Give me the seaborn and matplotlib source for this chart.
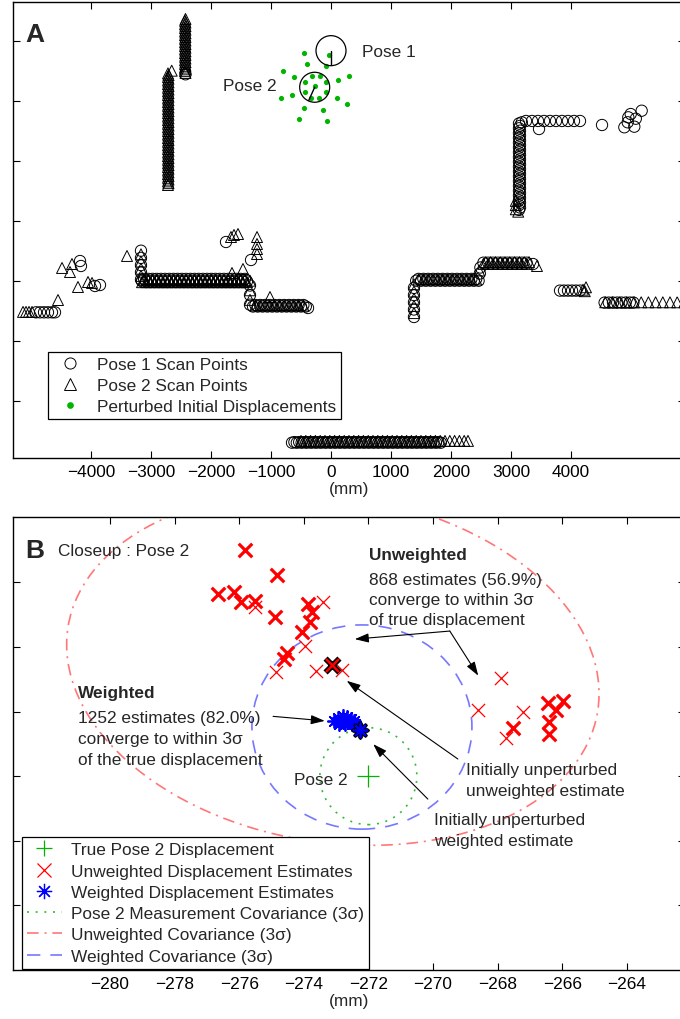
import warnings
warnings.filterwarnings("ignore")
import matplotlib
matplotlib.use("Agg")
import matplotlib.pyplot as plt
import seaborn as sns
from matplotlib.patches import Ellipse, Circle
from matplotlib.lines import Line2D
from matplotlib.ticker import FixedLocator, FixedFormatter, NullFormatter

sns.set_style("ticks")
plt.rcParams["font.family"] = ["Liberation Sans", "DejaVu Sans"]
plt.rcParams["axes.unicode_minus"] = True
FS = 12.4

# ======================= Panel A data (mm) =======================
a_xticks = [-4000, -3000, -2000, -1000, 0, 1000, 2000, 3000, 4000]
a_xticklabels = ["\u22124000", "\u22123000", "\u22122000", "\u22121000", "0", "1000", "2000", "3000", "4000"]
a_yticks = [-2000, -1000, 0, 1000, 2000, 3000, 4000]

pose1 = (0, 3834)
pose2 = (-272, 3224)
pose_radius = 250
pose1_heading = (0, 3600)
pose2_heading = (-372, 3002)

perturbed_x = [-450, -392, -805, -620, -83, 113, 305, -833, -650, 95, 270, -447, -138, -537, -75,
               -433, -322, -183, -83, -83, -195, -338, -433, -267, -33]
perturbed_y = [3800, 3607, 3492, 3403, 3575, 3345, 3412, 3040, 3100, 3045, 2953, 2873, 2848, 2695, 2658,
               3307, 3407, 3407, 3307, 3150, 3045, 3040, 3150, 3250, 3767]

# Pose 1 scan points (circles), by wall segment
p1_misc_x = [-4183, -4167, -3933, -3850, -1750, -1333, 3467, 4517, 4889, 4955, 4995, 5055, 5178, 4945,
             5080, -2425, -383, 3367, 2480, 2490, 3180]
p1_misc_y = [328, 245, -88, -72, 645, 345, 2528, 2595, 2557, 2723, 2778, 2567, 2833, 2640,
             2700, 3440, -455, 278, 120, 220, 2640]
p1_ll_x = [-4917, -4850, -4783, -4717, -4650, -4600]
p1_ll_y = -527
p1_w1_x = -3167
p1_w1_y = [500, 380, 260, 140, 20]
p1_w2_x = [-3150, -3080, -3010, -2940, -2870, -2800, -2730, -2660, -2590, -2520, -2450, -2380, -2310,
           -2240, -2170, -2100, -2030, -1960, -1890, -1820, -1750, -1680, -1610, -1540, -1470, -1400]
p1_w2_y = -10
p1_w2b_x = [-3115, -3045, -2975, -2905, -2835, -2765, -2695, -2625, -2555, -2485, -2415, -2345, -2275,
            -2205, -2135, -2065, -1995, -1925, -1855, -1785, -1715, -1645, -1575, -1505, -1435]
p1_w2b_y = 30
p1_w3_x = -1350
p1_w3_y = [-80, -240, -400]
p1_w4_x = [-1300, -1220, -1140, -1060, -980, -900, -820, -740, -660, -580, -500, -420]
p1_w4_y = -430
p1_w4b_x = [-1260, -1180, -1100, -1020, -940, -860, -780, -700, -620, -540, -460]
p1_w4b_y = -405
p1_w5_x = [-650, -570, -490, -410, -330, -250, -170, -90, -10, 70, 150, 230, 310, 390, 470, 550, 630,
           710, 790, 870, 950, 1030, 1110, 1190, 1270, 1350, 1430, 1510, 1590, 1670, 1750, 1830]
p1_w5_y = -2700
p1_w5b_x = [-610, -530, -450, -370, -290, -210, -130, -50, 30, 110, 190, 270, 350, 430, 510, 590, 670,
            750, 830, 910, 990, 1070, 1150, 1230, 1310, 1390, 1470, 1550, 1630, 1710, 1790]
p1_w5b_y = -2690
p1_w6_x = 1383
p1_w6_y = [-605, -480, -360, -240, -120]
p1_w7_x = [1420, 1500, 1580, 1660, 1740, 1820, 1900, 1980, 2060, 2140, 2220, 2300, 2380, 2460]
p1_w7_y = 0
p1_w7b_x = [1460, 1540, 1620, 1700, 1780, 1860, 1940, 2020, 2100, 2180, 2260, 2340, 2420]
p1_w7b_y = 30
p1_w9_x = [2540, 2620, 2700, 2780, 2860, 2940, 3020, 3100, 3180, 3260]
p1_w9_y = 300
p1_w10_x = [3817, 3883, 3950, 4017, 4083, 4150]
p1_w10_y = -165
p1_w11_x = [4560, 4630, 4700, 4770, 4840, 4910, 4980, 5040]
p1_w11_y = -365
p1_w12_x = 3133
p1_w12_y = [1180, 1260, 1340, 1420, 1500, 1580, 1660, 1740, 1820, 1900, 1980, 2060, 2140, 2220, 2300,
            2380, 2460, 2540, 2620]
p1_w12b_x = 3150
p1_w12b_y = [1220, 1300, 1380, 1460, 1540, 1620, 1700, 1780, 1860, 1940, 2020, 2100, 2180, 2260, 2340,
             2420, 2500, 2580]
p1_w13_x = [3250, 3350, 3450, 3550, 3650, 3750, 3850, 3950, 4050, 4150]
p1_w13_y = 2662

# Pose 2 scan points (triangles), by wall segment
p2_misc_x = [-2655, -4550, -4483, -4350, -4317, -4217, -4050, -3983, -3400, -1650, -1467, -1617, -1550,
             -1667, -1017, 2470, 3433, 4200, 4250, 4230, 3120]
p2_misc_y = [3500, -322, 212, 145, 278, -105, -22, -38, 412, 128, 195, 762, 778,
             728, -272, 170, 245, -150, -110, -175, 1150]
p2_w1_x = -2717
p2_w1_y = [1595, 1655, 1715, 1775, 1835, 1895, 1955, 2015, 2075, 2135, 2195, 2255, 2315, 2375, 2435, 2495,
           2555, 2615, 2675, 2735, 2795, 2855, 2915, 2975, 3035, 3095, 3155, 3215, 3275, 3335, 3395, 3455]
p2_w1b_x = -2708
p2_w1b_y = [1625, 1685, 1745, 1805, 1865, 1925, 1985, 2045, 2105, 2165, 2225, 2285, 2345, 2405, 2465,
            2525, 2585, 2645, 2705, 2765, 2825, 2885, 2945, 3005, 3065, 3125, 3185, 3245, 3305, 3365, 3425]
p2_w2_x = -2425
p2_w2_y = [3462, 3522, 3582, 3642, 3702, 3762, 3822, 3882, 3942, 4002, 4062, 4122, 4182, 4242, 4302, 4362]
p2_w2b_x = -2433
p2_w2b_y = [3492, 3552, 3612, 3672, 3732, 3792, 3852, 3912, 3972, 4032, 4092, 4152, 4212, 4272, 4332]
p2_ll_x = [-5133, -5083, -5033, -4983]
p2_ll_y = -520
p2_w3_x = -3167
p2_w3_y = [440, 320, 200, 80]
p2_w4_x = [-3115, -3045, -2975, -2905, -2835, -2765, -2695, -2625, -2555, -2485, -2415, -2345, -2275,
           -2205, -2135, -2065, -1995, -1925, -1855, -1785, -1715, -1645, -1575, -1505, -1435]
p2_w4_y = 15
p2_w4b_x = [-3150, -3080, -3010, -2940, -2870, -2800, -2730, -2660, -2590, -2520, -2450, -2380, -2310,
            -2240, -2170, -2100, -2030, -1960, -1890, -1820, -1750, -1680, -1610, -1540, -1470, -1400]
p2_w4b_y = -25
p2_w5_x = -1233
p2_w5_y = [728, 612, 528, 445]
p2_w6_x = -1350
p2_w6_y = [0, -160, -320]
p2_w7_x = [-1260, -1180, -1100, -1020, -940, -860, -780, -700, -620, -540, -460]
p2_w7_y = -415
p2_w8_x = [-500, -420, -340, -260, -180, -100, -20, 60, 140, 220, 300, 380, 460, 540, 620, 700, 780, 860,
           940, 1020, 1100, 1180, 1260, 1340, 1420, 1500, 1580, 1660, 1740, 1820, 1900, 1980, 2060, 2140,
           2220, 2283]
p2_w8_y = -2670
p2_w9_x = 1383
p2_w9_y = [-540, -420, -300, -180, -60]
p2_w10_x = [1460, 1540, 1620, 1700, 1780, 1860, 1940, 2020, 2100, 2180, 2260, 2340, 2420]
p2_w10_y = 20
p2_w11_x = [2580, 2660, 2740, 2820, 2900, 2980, 3060, 3140, 3220, 3300]
p2_w11_y = 310
p2_w11b_x = [2540, 2620, 2700, 2780, 2860, 2940, 3020, 3100, 3180, 3260]
p2_w11b_y = 280
p2_w12_x = [4570, 4690, 4810, 4930, 5050, 5170, 5290, 5410, 5530, 5650, 5770, 5890]
p2_w12_y = -360
p2_w13_x = 3080
p2_w13_y = [1190, 1260, 1330]

# ======================= Panel B data (mm) =======================
b_xticks = [-280, -278, -276, -274, -272, -270, -268, -266, -264]
b_xticklabels = ["\u2212280", "\u2212278", "\u2212276", "\u2212274", "\u2212272", "\u2212270",
                 "\u2212268", "\u2212266", "\u2212264"]
b_yticks = [3220, 3222, 3224, 3226, 3228, 3230]

true_pose2 = (-272.0, 3224.0)
unw_multi_x = [-275.82, -274.84, -276.65, -276.15, -275.93, -275.51, -274.89, -273.86, -273.76, -273.81,
               -274.04, -274.51, -274.61, -266.43, -265.99, -266.19, -266.40, -266.40, -267.52]
unw_multi_y = [3231.01, 3230.23, 3229.64, 3229.69, 3229.38, 3229.43, 3228.92, 3229.33, 3229.07, 3228.76,
               3228.47, 3227.81, 3227.62, 3226.26, 3226.33, 3226.05, 3225.68, 3225.30, 3225.48]
unw_single_x = [-275.51, -273.42, -273.97, -274.87, -273.63, -272.83, -267.90, -268.60, -267.21, -267.74]
unw_single_y = [3229.25, 3229.38, 3228.02, 3227.21, 3227.26, 3227.29, 3227.03, 3226.05, 3225.99, 3225.17]
unw_init = (-273.12, 3227.45)
w_x = [-273.05, -272.95, -272.90, -272.85, -272.80, -272.78, -272.72, -272.70, -272.65, -272.62,
       -272.58, -272.55, -272.50, -272.45, -272.42, -272.88]
w_y = [3225.72, 3225.80, 3225.62, 3225.75, 3225.68, 3225.85, 3225.60, 3225.74, 3225.82, 3225.66,
       3225.70, 3225.78, 3225.62, 3225.72, 3225.60, 3225.66]
w_init = (-272.26, 3225.42)

cov_meas = dict(center=(-272.0, 3224.0), w=3.0, h=3.0, angle=0)
cov_unw = dict(center=(-273.10, 3227.31), w=16.6, h=10.72, angle=-9.1)
cov_w = dict(center=(-272.20, 3225.52), w=6.81, h=6.32, angle=0)

GREEN = "#00b400"
RED = "#ff0000"
BLUE = "#0000ff"
L_GREEN = "#33bb33"
L_RED = "#ff7777"
L_BLUE = "#7777ff"


def seg(xv, yv):
    if not isinstance(xv, list):
        xv = [xv] * len(yv)
    if not isinstance(yv, list):
        yv = [yv] * len(xv)
    return xv, yv


def scat(ax, x, y, marker, s, lw, color, hollow=True, z=3):
    kw = dict(facecolor="none", edgecolor=color) if hollow else {}
    sns.scatterplot(x=x, y=y, marker=marker, s=s, color=color, linewidth=lw,
                    ax=ax, legend=False, zorder=z, **kw)


def style_axes(ax):
    for sp in ax.spines.values():
        sp.set_linewidth(1.0)
        sp.set_color("black")
    ax.tick_params(direction="in", length=5, width=0.8, top=True, right=True,
                   labelsize=FS, pad=4, colors="black", labelleft=False)
    ax.set_xlabel("(mm)", fontsize=FS, labelpad=1.5)
    ax.set_ylabel("")


fig = plt.figure(figsize=(6.8, 10.2), dpi=100)

# ---------------------------- Panel A ----------------------------
axA = fig.add_axes([13 / 680, 1 - 459 / 1020, 672 / 680, 456 / 1020])
p1_segments = [(p1_misc_x, p1_misc_y), (p1_ll_x, p1_ll_y), (p1_w1_x, p1_w1_y), (p1_w2_x, p1_w2_y),
               (p1_w2b_x, p1_w2b_y), (p1_w3_x, p1_w3_y), (p1_w4_x, p1_w4_y), (p1_w4b_x, p1_w4b_y),
               (p1_w5_x, p1_w5_y), (p1_w5b_x, p1_w5b_y), (p1_w6_x, p1_w6_y), (p1_w7_x, p1_w7_y),
               (p1_w7b_x, p1_w7b_y), (p1_w9_x, p1_w9_y), (p1_w10_x, p1_w10_y), (p1_w11_x, p1_w11_y),
               (p1_w12_x, p1_w12_y), (p1_w12b_x, p1_w12b_y), (p1_w13_x, p1_w13_y)]
p2_segments = [(p2_misc_x, p2_misc_y), (p2_w1_x, p2_w1_y), (p2_w1b_x, p2_w1b_y), (p2_w2_x, p2_w2_y),
               (p2_w2b_x, p2_w2b_y), (p2_ll_x, p2_ll_y), (p2_w3_x, p2_w3_y), (p2_w4_x, p2_w4_y),
               (p2_w4b_x, p2_w4b_y), (p2_w5_x, p2_w5_y), (p2_w6_x, p2_w6_y), (p2_w7_x, p2_w7_y),
               (p2_w8_x, p2_w8_y), (p2_w9_x, p2_w9_y), (p2_w10_x, p2_w10_y), (p2_w11_x, p2_w11_y),
               (p2_w11b_x, p2_w11b_y), (p2_w12_x, p2_w12_y), (p2_w13_x, p2_w13_y)]
for sx, sy in p1_segments:
    xx, yy = seg(sx, sy)
    scat(axA, xx, yy, "o", 66, 0.7, "black")
for sx, sy in p2_segments:
    xx, yy = seg(sx, sy)
    scat(axA, xx, yy, "^", 62, 0.7, "black")

scat(axA, perturbed_x, perturbed_y, "o", 14, 0, GREEN, hollow=False, z=4)
for p, h in [(pose1, pose1_heading), (pose2, pose2_heading)]:
    axA.add_patch(Circle(p, pose_radius, fill=False, ec="black", lw=0.9, zorder=5))
    axA.plot([p[0], h[0]], [p[1], h[1]], color="black", lw=1.0, zorder=5)
axA.text(517, 3812, "Pose 1", fontsize=FS, ha="left", va="center")
axA.text(-900, 3250, "Pose 2", fontsize=FS, ha="right", va="center")

axA.set_xlim(-5300, 5900)
axA.set_ylim(-2955, 4645)
axA.xaxis.set_major_locator(FixedLocator(a_xticks))
axA.xaxis.set_major_formatter(FixedFormatter(a_xticklabels))
axA.yaxis.set_major_locator(FixedLocator(a_yticks))
axA.yaxis.set_major_formatter(NullFormatter())
style_axes(axA)

legA_handles = [
    Line2D([], [], ls="none", marker="o", mfc="none", mec="black", ms=8, mew=0.7),
    Line2D([], [], ls="none", marker="^", mfc="none", mec="black", ms=8, mew=0.7),
    Line2D([], [], ls="none", marker="o", color=GREEN, ms=3.8),
]
legA_labels = ["Pose 1 Scan Points", "Pose 2 Scan Points", "Perturbed Initial Displacements"]
legA = axA.legend(legA_handles, legA_labels, loc="center left", bbox_to_anchor=(48 / 680, 1 - 386.5 / 1020),
                  bbox_transform=fig.transFigure, fontsize=FS, frameon=True, fancybox=False,
                  edgecolor="black", framealpha=1, borderpad=0.3, labelspacing=0.32,
                  handlelength=2.0, handletextpad=0.55, borderaxespad=0)
legA.get_frame().set_linewidth(0.9)
fig.text(35 / 680, 1 - 35 / 1020, "A", fontsize=19, fontweight="bold", ha="center", va="center")

# ---------------------------- Panel B ----------------------------
axB = fig.add_axes([13 / 680, 1 - 971 / 1020, 672 / 680, 453 / 1020])
for cov, col, ls in [(cov_meas, L_GREEN, (0, (1.2, 4.0))),
                     (cov_unw, L_RED, (0, (7, 3.5, 1.2, 3.5))),
                     (cov_w, L_BLUE, (0, (8, 6)))]:
    axB.add_patch(Ellipse(cov["center"], cov["w"], cov["h"], angle=cov["angle"], fill=False,
                          ec=col, lw=1.2, ls=ls, zorder=2))

scat(axB, unw_single_x, unw_single_y, "x", 90, 0.9, RED, hollow=False)
scat(axB, unw_multi_x, unw_multi_y, "x", 95, 2.3, RED, hollow=False)
scat(axB, [unw_init[0]], [unw_init[1]], "x", 100, 4.2, "black", hollow=False, z=4)
scat(axB, [unw_init[0]], [unw_init[1]], "x", 88, 1.8, RED, hollow=False, z=5)
scat(axB, w_x, w_y, (8, 2, 0), 90, 1.3, BLUE, hollow=False)
scat(axB, [w_init[0]], [w_init[1]], (8, 2, 0), 105, 2.8, "black", hollow=False, z=4)
scat(axB, [w_init[0]], [w_init[1]], (8, 2, 0), 100, 1.3, BLUE, hollow=False, z=5)
scat(axB, [true_pose2[0]], [true_pose2[1]], "+", 250, 0.9, GREEN, hollow=False)

axB.text(-281.61, 3230.97, "Closeup : Pose 2", fontsize=FS, ha="left", va="center")
axB.text(-272.63, 3223.91, "Pose 2", fontsize=FS, ha="right", va="center")

axB.text(-271.98, 3230.87, "Unweighted", fontsize=FS, fontweight="bold", ha="left", va="center")
for yv, s in [(3230.10, "868 estimates (56.9%)"), (3229.48, "converge to within 3\u03c3"),
              (3228.86, "of true displacement")]:
    axB.text(-271.98, yv, s, fontsize=FS, ha="left", va="center")
axB.text(-280.98, 3226.59, "Weighted", fontsize=FS, fontweight="bold", ha="left", va="center")
for yv, s in [(3225.83, "1252 estimates (82.0%)"), (3225.15, "converge to within 3\u03c3"),
              (3224.53, "of the true displacement")]:
    axB.text(-280.98, yv, s, fontsize=FS, ha="left", va="center")
axB.text(-268.98, 3224.22, "Initially unperturbed", fontsize=FS, ha="left", va="center")
axB.text(-268.98, 3223.55, "unweighted estimate", fontsize=FS, ha="left", va="center")
axB.text(-269.97, 3222.67, "Initially unperturbed", fontsize=FS, ha="left", va="center")
axB.text(-269.97, 3222.02, "weighted estimate", fontsize=FS, ha="left", va="center")

arrow = dict(arrowstyle="-|>,head_length=0.6,head_width=0.2", color="black", lw=0.8,
             mutation_scale=14, shrinkA=0, shrinkB=0)
for tail, head in [((-269.48, 3228.49), (-272.42, 3228.24)),
                   ((-269.48, 3228.49), (-268.60, 3227.11)),
                   ((-274.95, 3225.85), (-273.35, 3225.71)),
                   ((-269.23, 3224.53), (-272.67, 3226.95)),
                   ((-270.16, 3223.29), (-271.85, 3224.99))]:
    axB.annotate("", xy=head, xytext=tail, arrowprops=arrow, zorder=6)

axB.set_xlim(-283.0, -262.2)
axB.set_ylim(3218.0, 3232.02)
axB.xaxis.set_major_locator(FixedLocator(b_xticks))
axB.xaxis.set_major_formatter(FixedFormatter(b_xticklabels))
axB.yaxis.set_major_locator(FixedLocator(b_yticks))
axB.yaxis.set_major_formatter(NullFormatter())
style_axes(axB)

legB_handles = [
    Line2D([], [], ls="none", marker="+", color=GREEN, ms=12, mew=0.9),
    Line2D([], [], ls="none", marker="x", color=RED, ms=9.5, mew=0.9),
    Line2D([], [], ls="none", marker=(8, 2, 0), color=BLUE, ms=11, mew=0.9),
    Line2D([], [], color=L_GREEN, lw=1.2, ls=(0, (1.2, 4.0))),
    Line2D([], [], color=L_RED, lw=1.2, ls=(0, (7, 3.5, 1.2, 3.5))),
    Line2D([], [], color=L_BLUE, lw=1.2, ls=(0, (8, 6))),
]
legB_labels = ["True Pose 2 Displacement", "Unweighted Displacement Estimates",
               "Weighted Displacement Estimates", "Pose 2 Measurement Covariance (3\u03c3)",
               "Unweighted Covariance (3\u03c3)", "Weighted Covariance (3\u03c3)"]
legB = axB.legend(legB_handles, legB_labels, loc="center left", bbox_to_anchor=(22 / 680, 1 - 904 / 1020),
                  bbox_transform=fig.transFigure, fontsize=FS, frameon=True, fancybox=False,
                  edgecolor="black", framealpha=1, borderpad=0.3, labelspacing=0.36,
                  handlelength=2.0, handletextpad=0.55, borderaxespad=0)
legB.get_frame().set_linewidth(0.9)
legB.set_zorder(10)
fig.text(35 / 680, 1 - 551 / 1020, "B", fontsize=19, fontweight="bold", ha="center", va="center")

fig.savefig("out.png", dpi=100)
